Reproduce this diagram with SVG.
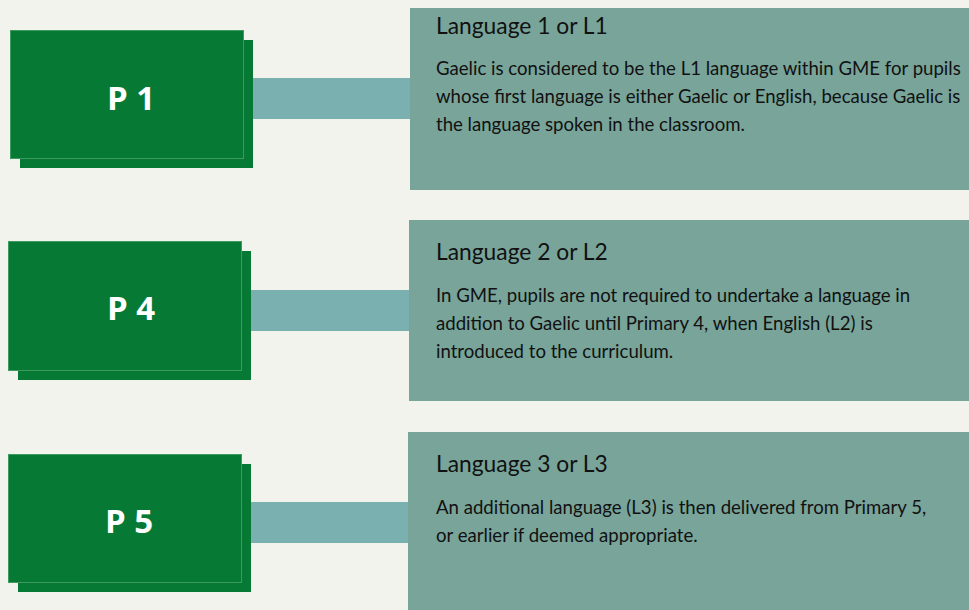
<svg xmlns="http://www.w3.org/2000/svg" width="969" height="610" viewBox="0 0 969 610">
<style>
.bg{fill:#F3F3EE}
.gb{fill:#067A34}
.gf{fill:#067A34;stroke:#3E9A5E;stroke-width:1}
.bar{fill:#7BB0B1}
.box{fill:#78A49A}
.pl{font-family:"Open Sans","Liberation Sans",sans-serif;font-weight:bold;font-size:33px;fill:#FFFFFF;text-anchor:middle}
.tt{font-family:Lato,"Liberation Sans",sans-serif;font-size:22.8px;fill:#111111}
.bd{font-family:Lato,"Liberation Sans",sans-serif;font-size:18.6px;fill:#111111}
</style>
<rect class="bg" x="0" y="0" width="969" height="610"/>
<g id="connectors">
<rect class="bar" x="250" y="78" width="162" height="41"/>
<rect class="bar" x="248" y="290" width="163" height="41"/>
<rect class="bar" x="248" y="502" width="162" height="41"/>
</g>
<g id="p1">
<rect class="gb" x="20" y="40" width="233" height="128"/>
<rect class="gf" x="10.5" y="30.5" width="233" height="128"/>
<text class="pl" x="131" y="110">P 1</text>
</g>
<g id="p4">
<rect class="gb" x="18" y="251" width="233" height="129"/>
<rect class="gf" x="8.5" y="241.5" width="233" height="129"/>
<text class="pl" x="131" y="320">P 4</text>
</g>
<g id="p5">
<rect class="gb" x="18" y="464" width="233" height="128"/>
<rect class="gf" x="8.5" y="454.5" width="233" height="128"/>
<text class="pl" x="129" y="533">P 5</text>
</g>
<g id="l1">
<rect class="box" x="410" y="8" width="559" height="182"/>
<text class="tt" x="436" y="34">Language 1 or L1</text>
<text class="bd" x="436" y="75">Gaelic is considered to be the L1 language within GME for pupils</text>
<text class="bd" x="436" y="103">whose first language is either Gaelic or English, because Gaelic is</text>
<text class="bd" x="436" y="131">the language spoken in the classroom.</text>
</g>
<g id="l2">
<rect class="box" x="409" y="220" width="560" height="181"/>
<text class="tt" x="436" y="260">Language 2 or L2</text>
<text class="bd" x="436" y="302">In GME, pupils are not required to undertake a language in</text>
<text class="bd" x="436" y="330">addition to Gaelic until Primary 4, when English (L2) is</text>
<text class="bd" x="436" y="358">introduced to the curriculum.</text>
</g>
<g id="l3">
<rect class="box" x="408" y="432" width="561" height="178"/>
<text class="tt" x="436" y="472">Language 3 or L3</text>
<text class="bd" x="436" y="514">An additional language (L3) is then delivered from Primary 5,</text>
<text class="bd" x="436" y="542">or earlier if deemed appropriate.</text>
</g>
</svg>
